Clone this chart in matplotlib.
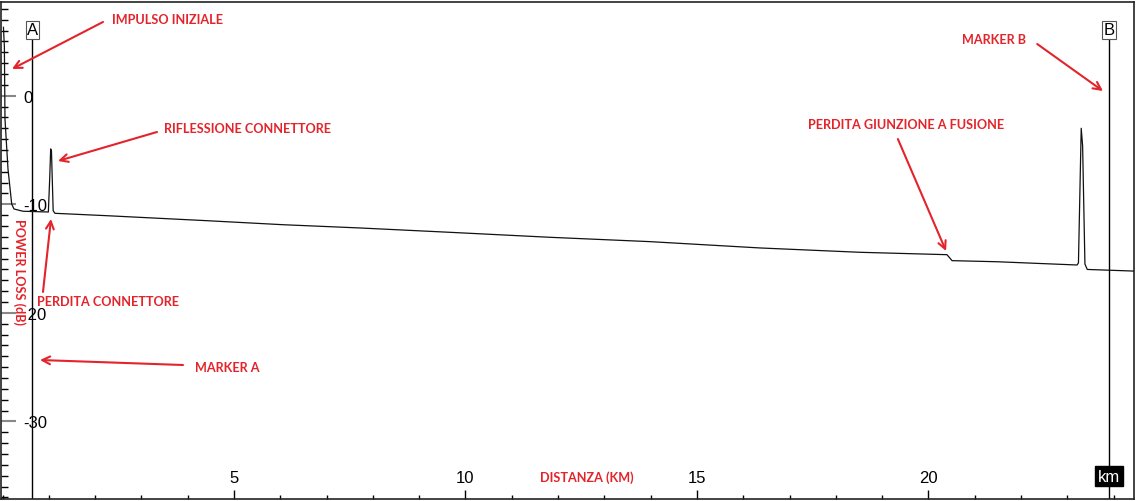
import matplotlib.pyplot as plt
from matplotlib.ticker import MultipleLocator, FixedLocator

# OTDR trace (km, dB)
dist_km = [0.02, 0.04, 0.053, 0.118, 0.198, 0.247, 0.44, 0.99, 1.02, 1.04, 1.057, 1.094,
           1.133, 2.256, 4.417, 6.058, 7.722, 9.666, 11.83, 13.99, 16.36, 18.52, 20.40,
           20.51, 21.48, 23.21, 23.24, 23.29, 23.30, 23.33, 23.38, 23.43, 24.44]
loss_db = [6.3, 4.5, -2.15, -6.75, -9.97, -10.43, -10.64, -10.71, -7.5, -4.9, -5.1, -10.6,
           -10.83, -11.05, -11.51, -11.88, -12.18, -12.58, -13.04, -13.44, -14.02, -14.42, -14.64,
           -15.19, -15.29, -15.59, -15.4, -5.0, -3.0, -4.6, -15.5, -16.0, -16.15]

marker_names = ["A", "B"]
marker_km = [0.647, 23.90]

x_ticks = [5, 10, 15, 20]
y_ticks = [0, -10, -20, -30]
y_tick_labels = ["0", "-10", " 20", "-30"]  # minus of -20 is hidden in the original

RED = "#e3242b"
ann_font = dict(color=RED, fontweight="bold", fontsize=9.1, family="Lato")


def main():
    fig = plt.figure(figsize=(11.41, 5.02), dpi=100)
    ax = fig.add_axes([1 / 1141, 2 / 502, 1133 / 1141, 497 / 502])

    ax.plot(dist_km, loss_db, color="#111111", lw=0.9, zorder=3)
    ax.set_xlim(-0.033, 24.44)
    ax.set_ylim(-37.14, 8.63)

    for s in ax.spines.values():
        s.set_color("#222222")
        s.set_linewidth(1.2)

    # x axis: ticks inside, labels above the axis
    ax.xaxis.set_major_locator(FixedLocator(x_ticks))
    ax.xaxis.set_minor_locator(MultipleLocator(1))
    ax.tick_params(axis="x", which="major", direction="in", length=6.5, width=1,
                   pad=-21, labelsize=12)
    ax.tick_params(axis="x", which="minor", direction="in", length=3, width=1)

    # y axis: ticks inside, labels to the right
    ax.yaxis.set_major_locator(FixedLocator(y_ticks))
    ax.yaxis.set_minor_locator(MultipleLocator(1))
    ax.set_yticklabels(y_tick_labels)
    ax.tick_params(axis="y", which="major", direction="in", length=11, width=1.5,
                   color="#888888", pad=-16, labelsize=12)
    ax.tick_params(axis="y", which="minor", direction="in", length=5, width=1)
    for lab in ax.get_yticklabels():
        lab.set_horizontalalignment("left")
        lab.set_family("Liberation Sans")
        lab.set_bbox(dict(facecolor="white", edgecolor="none", pad=0))
        lab.set_zorder(5)
    for lab in ax.get_xticklabels():
        lab.set_family("Liberation Sans")

    # markers A / B
    for name, km in zip(marker_names, marker_km):
        ax.axvline(km, ymin=0, ymax=0.925, color="black", lw=1, zorder=2)
        ax.text(km, 0.944, name, transform=ax.get_xaxis_transform(), ha="center", va="center",
                fontsize=12, family="Liberation Sans",
                bbox=dict(boxstyle="square,pad=0.08", fc="white", ec="#555555", lw=0.8))
    ax.text(marker_km[1], 0.046, "km", transform=ax.get_xaxis_transform(), ha="center",
            va="center", fontsize=12, family="Liberation Sans", color="white", zorder=6,
            bbox=dict(boxstyle="square,pad=0.15", fc="black", ec="black"))

    # red annotations
    arrow = dict(arrowstyle="->", color=RED, lw=1.5, mutation_scale=14, shrinkA=0, shrinkB=0)
    ax.annotate("", xy=(0.204, 2.46), xytext=(2.17, 6.79), arrowprops=arrow)
    ax.text(2.365, 7.06, "IMPULSO INIZIALE", va="center", **ann_font)
    ax.annotate("", xy=(1.198, -6.01), xytext=(3.337, -3.34), arrowprops=arrow)
    ax.text(3.488, -2.97, "RIFLESSIONE CONNETTORE", va="center", **ann_font)
    ax.annotate("", xy=(1.047, -11.35), xytext=(0.874, -18.07), arrowprops=arrow)
    ax.text(0.744, -18.89, "PERDITA CONNETTORE", va="center", zorder=6, **ann_font)
    ax.annotate("", xy=(0.809, -24.34), xytext=(3.898, -24.80), arrowprops=arrow)
    ax.text(4.157, -24.98, "MARKER A", va="center", **ann_font)
    ax.annotate("", xy=(23.77, 0.43), xytext=(22.35, 4.76), arrowprops=arrow)
    ax.text(20.73, 5.22, "MARKER B", va="center", **ann_font)
    ax.annotate("", xy=(20.38, -14.3), xytext=(19.34, -3.99), arrowprops=arrow)
    ax.text(17.40, -2.61, "PERDITA GIUNZIONE A FUSIONE", va="center", **ann_font)
    ax.text(0.355, -16.14, "POWER LOSS (dB)", rotation=270, ha="center", va="center",
            zorder=7, **ann_font)
    ax.text(11.61, -35.1, "DISTANZA (KM)", va="center", **ann_font)

    fig.savefig("out.png", dpi=100)


if __name__ == "__main__":
    main()
